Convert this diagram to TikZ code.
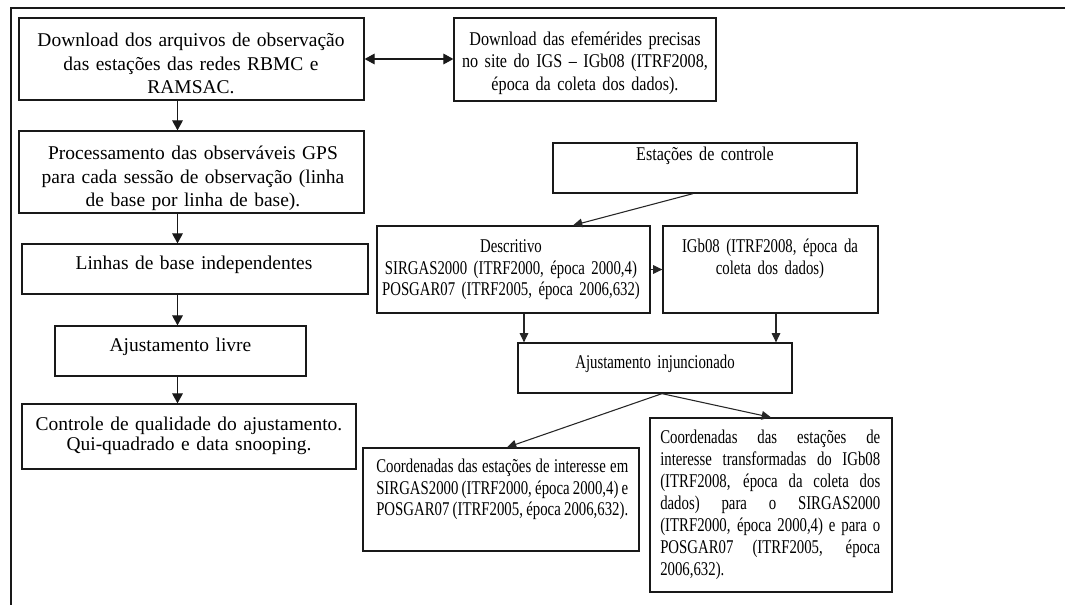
\documentclass[tikz,border=0pt]{standalone}
\usepackage{fontspec}
\setmainfont{Liberation Serif}
\newfontfamily\fA[FakeStretch=0.83,Ligatures=TeX]{Liberation Serif}
\newfontfamily\fB[FakeStretch=0.76,Ligatures=TeX]{Liberation Serif}
\usetikzlibrary{fit,arrows.meta}
\begin{document}
\begin{tikzpicture}[x=0.75pt,y=-0.75pt,
  bx/.style={draw=black!90, line width=0.95pt, inner sep=0pt, fit={#1}},
  tx/.style={inner sep=0pt, anchor=north, align=center},
  arr/.style={draw=black!90, line width=0.85pt, -{Triangle[length=7.5pt,width=8pt]}},
  arrs/.style={draw=black!85, line width=0.8pt, -{Triangle[length=7pt,width=6.5pt]}},
  fN/.style={font=\fontsize{14.6pt}{#1pt}\selectfont},
  fa/.style={font=\fA\fontsize{14.6pt}{#1pt}\selectfont},
  fb/.style={font=\fB\fontsize{14.6pt}{#1pt}\selectfont}]
\useasboundingbox (0,0) rectangle (1065,604);
\fill[white] (0,0) rectangle (1065,604);
% outer frame
\draw[line width=1.6pt, black!90] (11,620) -- (11,8) -- (1080,8);

% boxes
\node[bx={(19,18) (364,100)}] (b1) {};
\node[bx={(454,18) (716,101)}] (b2) {};
\node[bx={(19,131) (364,213)}] (b3) {};
\node[bx={(22,244) (368,294)}] (b4) {};
\node[bx={(55,326) (306,376)}] (b5) {};
\node[bx={(22,404) (356,469)}] (b6) {};
\node[bx={(553,143) (857,193)}] (ec) {};
\node[bx={(377,226) (650,313)}] (de) {};
\node[bx={(663,226) (878,313)}] (ig) {};
\node[bx={(518,343) (792,393)}] (aj) {};
\node[bx={(363,448) (639,551)}] (cl) {};
\node[bx={(650,418) (892,592)}] (cr) {};

% texts (north = first baseline - 20px)
\node[tx, fN=17.6, text width=330*0.75pt] (b1t) at (191,26.5)
  {\rule{0pt}{15pt}Download dos arquivos de observação\\das estações das redes RBMC e\\RAMSAC.};
\node[tx, fa=16.9, text width=255*0.75pt] (b2t) at (585,25)
  {\rule{0pt}{15pt}Download das efemérides precisas\\no site do IGS – IGb08 (ITRF2008,\\época da coleta dos dados).};
\node[tx, fN=17.8, text width=335*0.75pt] (b3t) at (193,139)
  {\rule{0pt}{15pt}Processamento das observáveis GPS\\para cada sessão de observação (linha\\de base por linha de base).};
\node[tx, fN=17.6, text width=335*0.75pt] (b4t) at (194,249)
  {\rule{0pt}{15pt}Linhas de base independentes};
\node[tx, fN=17.6, text width=240*0.75pt] (b5t) at (180.5,331)
  {\rule{0pt}{15pt}Ajustamento livre};
\node[tx, fN=15, text width=330*0.75pt] (b6t) at (189,410)
  {\rule{0pt}{15pt}Controle de qualidade do ajustamento.\\Qui-quadrado e data snooping.};
\node[tx, fa=16.5, text width=295*0.75pt] (ect) at (705,140)
  {\rule{0pt}{15pt}Estações de controle};
\node[tx, fb=16.3, text width=268*0.75pt] (det) at (511,232)
  {\rule{0pt}{15pt}Descritivo\\SIRGAS2000 (ITRF2000, época 2000,4)\\POSGAR07 (ITRF2005, época 2006,632)};
\node[tx, fb=16.3, text width=210*0.75pt] (igt) at (770,232)
  {\rule{0pt}{15pt}IGb08 (ITRF2008, época da\\coleta dos dados)};
\node[tx, fb=16.3, text width=265*0.75pt] (ajt) at (655,348)
  {\rule{0pt}{15pt}Ajustamento injuncionado};
\node[inner sep=0pt, anchor=north west, align=justify, fb=16.35, text width=252*0.75pt] (clt) at (376,452)
  {\rule{0pt}{15pt}Coordenadas das estações de interesse em\linebreak
   SIRGAS2000 (ITRF2000, época 2000,4) e\linebreak
   POSGAR07 (ITRF2005, época 2006,632).};
\node[inner sep=0pt, anchor=north west, align=justify, fb=16.5, text width=220*0.75pt] (crt) at (660,423)
  {\rule{0pt}{15pt}Coordenadas das estações de\linebreak
   interesse transformadas do IGb08\linebreak
   (ITRF2008, época da coleta dos\linebreak
   dados) para o SIRGAS2000\linebreak
   (ITRF2000, época 2000,4) e para o\linebreak
   POSGAR07 (ITRF2005, época\linebreak
   2006,632).};

% helper coordinates
\coordinate (ax) at (177.5,0);
\coordinate (e1) at (693,0);
\coordinate (e2) at (573,0);
\coordinate (dx) at (524,0);
\coordinate (ix) at (776,0);
\coordinate (ajs) at ([xshift=5.25pt]aj.south);
\coordinate (cle) at (507,0);
\coordinate (cre) at (771,0);

% connectors
\draw[draw=black!90, line width=0.85pt, {Triangle[length=7.5pt,width=8pt]}-{Triangle[length=7.5pt,width=8pt]}] (b1.east) -- (b1.east -| b2.west);
\draw[arr] (b1.south -| ax) -- (b3.north -| ax);
\draw[arr] (b3.south -| ax) -- (b4.north -| ax);
\draw[arr] (b4.south -| ax) -- (b5.north -| ax);
\draw[arr] (b5.south -| ax) -- (b6.north -| ax);
\draw[arrs] (ec.south -| e1) -- (de.north -| e2);
\draw[arrs] (de.east) -- (ig.west);
\draw[arrs] (de.south -| dx) -- (aj.north -| dx);
\draw[arrs] (ig.south -| ix) -- (aj.north -| ix);
\draw[arrs] (ajs) -- (cl.north -| cle);
\draw[arrs] (ajs) -- (cr.north -| cre);
\end{tikzpicture}
\end{document}
